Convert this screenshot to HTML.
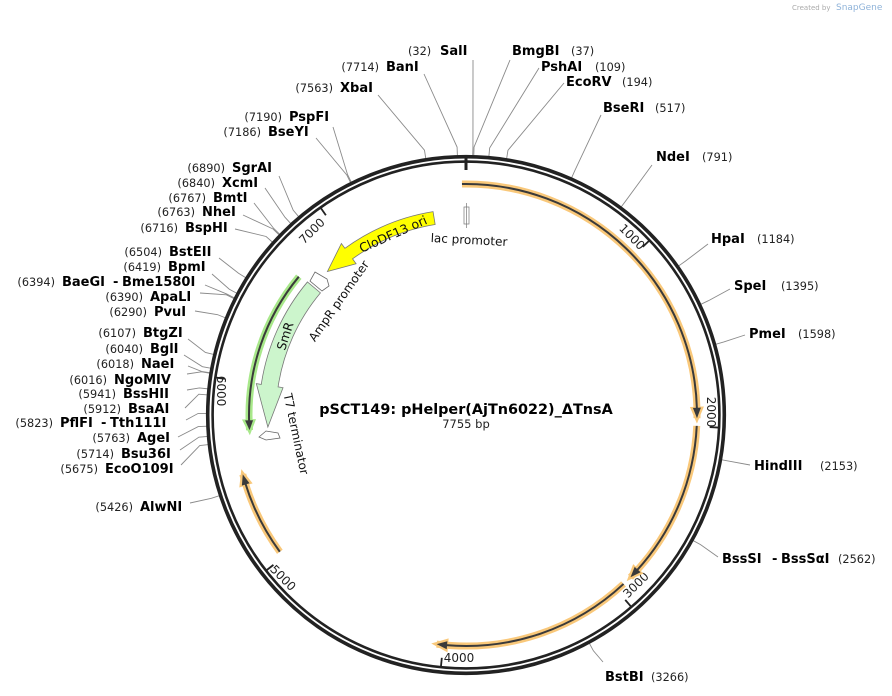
<!DOCTYPE html>
<html><head><meta charset="utf-8">
<style>
html,body{margin:0;padding:0;background:#fff;}
svg{display:block;font-family:"DejaVu Sans","Liberation Sans",sans-serif;}
.n{font-weight:bold;font-size:13px;fill:#000;}
.p{font-size:11.3px;fill:#222;}
.t{font-size:12px;fill:#222;}
</style></head>
<body>
<svg id="s" width="892" height="696" viewBox="0 0 892 696" xmlns="http://www.w3.org/2000/svg">
<text x="792" y="10" font-size="7" fill="#aaa">Created by</text>
<text x="836" y="10" font-size="9" fill="#8fb3d9">SnapGene</text>
<g id="g"></g>
<text x="466" y="414" text-anchor="middle" font-weight="bold" font-size="14.4">pSCT149: pHelper(AjTn6022)_ΔTnsA</text>
<text x="466" y="428" text-anchor="middle" font-size="11.5" fill="#222">7755 bp</text>
</svg>
<script>
const cx=466,cy=415,NS="http://www.w3.org/2000/svg";
const g=document.getElementById('g');
function P(r,a){a*=Math.PI/180;return [cx+r*Math.sin(a),cy-r*Math.cos(a)];}
function f(p){return p[0].toFixed(2)+' '+p[1].toFixed(2);}
function el(tag,attrs,txt){const e=document.createElementNS(NS,tag);for(const k in attrs)e.setAttribute(k,attrs[k]);if(txt!==undefined)e.textContent=txt;g.appendChild(e);return e;}
function arcD(r,a1,a2,move=true){const large=Math.abs(a2-a1)>180?1:0,sw=a2>a1?1:0;return (move?'M'+f(P(r,a1)):'')+' A'+r+' '+r+' 0 '+large+' '+sw+' '+f(P(r,a2));}
function bandArrow(ri,ro,a1,a2,h,ext,fill,stroke){const d=Math.sign(a2-a1),ab=a2-d*h,rm=(ri+ro)/2;
 let s='M'+f(P(ro,a1))+arcD(ro,a1,ab,false)+' L'+f(P(ro+ext,ab))+' L'+f(P(rm,a2))+' L'+f(P(ri-ext,ab))+' L'+f(P(ri,ab))+arcD(ri,ab,a1,false)+' Z';
 el('path',{d:s,fill:fill,stroke:stroke,'stroke-width':0.8});}
function thinArrow(r,a1,a2,glow){const d=Math.sign(a2-a1),h=2.6,ab=a2-d*h;
 el('path',{d:arcD(r,a1,a2),fill:'none',stroke:glow,'stroke-width':7,'stroke-linecap':'butt'});
 el('path',{d:'M'+f(P(r+5.5,ab))+' L'+f(P(r,a2+d*0.7))+' L'+f(P(r-5.5,ab))+' Z',fill:glow,stroke:glow,'stroke-width':2});
 el('path',{d:arcD(r,a1,ab+d*0.3),fill:'none',stroke:'#3a3a3a','stroke-width':2});
 el('path',{d:'M'+f(P(r+4,ab))+' L'+f(P(r,a2))+' L'+f(P(r-4,ab))+' Z',fill:'#3a3a3a'});}
const enz=[
[32,473,60],[37,510,60],[109,539,68],[194,564,83],[517,601,115],[791,652,165],[1184,708,244],[1395,730,289],[1598,745,335],[2153,750,465],[2562,718,557],[3266,603,662],
[7714,424,74],[7563,378,95],[7190,333,127],[7186,316,138],[6890,279,176],[6840,265,188],[6767,254,203],[6763,243,215],[6716,235,229],[6504,219,258],[6419,212,274],[6394,205,285],[6390,200,293],[6290,195,311],[6107,188,339],[6040,184,355],[6018,188,366],[6016,187,374],[5941,187,390],[5912,185,408],[5823,186,420],[5763,178,437],[5714,180,450],[5675,181,465],[5426,190,503]];
for(const [bp,x,y] of enz){const a=bp/7755*360;const p1=P(259,a),p2=P(268,a);
 el('path',{d:'M'+f(p1)+' L'+f(p2)+' L'+x+' '+y,fill:'none',stroke:'#8a8a8a','stroke-width':0.9});}
el('circle',{cx:cx,cy:cy,r:258.3,fill:'none',stroke:'#222','stroke-width':3.6});
el('circle',{cx:cx,cy:cy,r:253.4,fill:'none',stroke:'#222','stroke-width':2.6});
el('line',{x1:466,y1:157,x2:466,y2:170,stroke:'#222','stroke-width':3});
for(let k=1;k<=7;k++){const a=k*1000/7755*360;el('path',{d:'M'+f(P(253,a))+' L'+f(P(244,a)),stroke:'#222','stroke-width':1.8});}
const tl=[[1000,632,237,45],[2000,711,412,90],[3000,636,585,-45],[4000,459,658,0],[5000,283,578,45],[6000,221,391,90],[7000,312,231,-45]];
for(const [t,x,y,r] of tl)el('text',{x:x,y:y,'text-anchor':'middle','dominant-baseline':'central',class:'t',transform:`rotate(${r} ${x} ${y})`},t);
thinArrow(231,-1,90.8,'#f9c87a');
thinArrow(231,92.7,134.6,'#f9c87a');
thinArrow(231,137,187.3,'#f9c87a');
thinArrow(231,233.7,255.1,'#f9c87a');
thinArrow(217,309.6,266,'#a8e88a');
bandArrow(190,207,310,266.5,12,5,'#ccf5cc','#777');
bandArrow(193,206,350.8,316,8,6,'#ffff00','#777');
el('polygon',{points:'315,272 327,279 329,286 322,291 310,281',fill:'#fff',stroke:'#666','stroke-width':0.8});
el('polygon',{points:'259,437 266,431 278,433 280,438 266,440',fill:'#fff',stroke:'#666','stroke-width':0.8});
el('rect',{x:464,y:207,width:5,height:17,fill:'#fff',stroke:'#777','stroke-width':0.7});
el('line',{x1:466.5,y1:203,x2:466.5,y2:228,stroke:'#777','stroke-width':0.7});
function rt(txt,x,y,r,sz){el('text',{x:x,y:y,'text-anchor':'middle','dominant-baseline':'central','font-size':sz,fill:'#111',transform:`rotate(${r} ${x} ${y})`},txt);}
rt('CloDF13 ori',393,234,-24,12.5);
rt('lac promoter',469,240,3,12);
rt('AmpR promoter',339,301,-55,12);
rt('SmR',285,336,-72,12.5);
rt('T7 terminator',296,434,78,12);
const R=[['SalI',440,408,51],['BmgBI',512,571,51],['PshAI',541,595,67],['EcoRV',566,622,82],['BseRI',603,655,108],['NdeI',656,702,157],['HpaI',711,757,239],['SpeI',734,781,286],['PmeI',749,798,334],['HindIII',754,820,466],['BstBI',605,651,677]];
const pos={SalI:32,BmgBI:37,PshAI:109,EcoRV:194,BseRI:517,NdeI:791,HpaI:1184,SpeI:1395,PmeI:1598,HindIII:2153,BstBI:3266};
for(const [n,nx,px,y] of R){el('text',{x:nx,y:y+4,class:'n'},n);el('text',{x:px,y:y+4,class:'p'},'('+pos[n]+')');}
el('text',{x:722,y:563,class:'n'},'BssSI');el('text',{x:772,y:563,class:'n'},'-');el('text',{x:781,y:563,class:'n'},'BssSαI');el('text',{x:838,y:563,class:'p'},'(2562)');
const L=[['BanI',386,7714,67],['XbaI',340,7563,88],['PspFI',289,7190,117],['BseYI',268,7186,132],['SgrAI',232,6890,168],['XcmI',222,6840,183],['BmtI',213,6767,198],['NheI',202,6763,212],['BspHI',185,6716,228],['BstEII',169,6504,252],['BpmI',168,6419,267],['ApaLI',150,6390,297],['PvuI',154,6290,312],['BtgZI',143,6107,333],['BglI',150,6040,349],['NaeI',141,6018,364],['NgoMIV',114,6016,380],['BssHII',123,5941,394],['BsaAI',128,5912,409],['AgeI',137,5763,438],['Bsu36I',121,5714,454],['EcoO109I',105,5675,469],['AlwNI',140,5426,507]];
for(const [n,nx,p,y] of L){el('text',{x:nx,y:y+4,class:'n'},n);el('text',{x:nx-7,y:y+4,class:'p','text-anchor':'end'},'('+p+')');}
el('text',{x:62,y:286,class:'n'},'BaeGI');el('text',{x:113,y:286,class:'n'},'-');el('text',{x:122,y:286,class:'n'},'Bme1580I');el('text',{x:55,y:286,class:'p','text-anchor':'end'},'(6394)');
el('text',{x:60,y:427,class:'n'},'PflFI');el('text',{x:101,y:427,class:'n'},'-');el('text',{x:110,y:427,class:'n'},'Tth111I');el('text',{x:53,y:427,class:'p','text-anchor':'end'},'(5823)');
</script>
</body></html>
